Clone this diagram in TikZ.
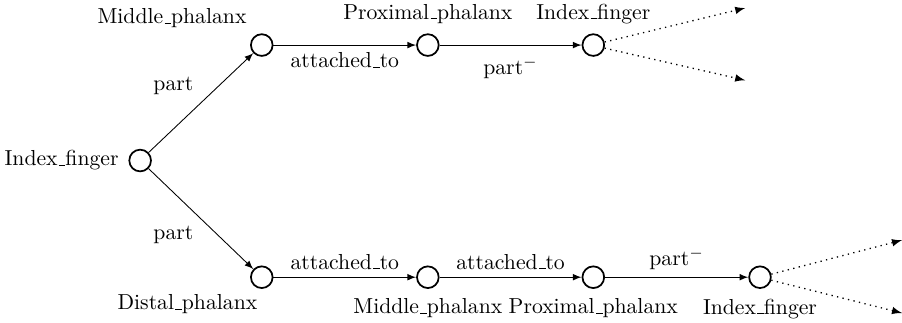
\documentclass[tikz,border=0pt]{standalone}
\usepackage{tikz}
\usetikzlibrary{positioning}

% old-style underscore rule
\newcommand{\us}{\leavevmode\kern.06em\vbox{\hrule width.3em}}

\begin{document}
\begin{tikzpicture}[
    >=latex,
    label distance=1pt,
    ent/.style={
    draw,
    thick,
    circle,
    inner sep=0pt,
    minimum size=10pt},
    rel/.style={->},
    more/.style={->, dotted, semithick}]

    \useasboundingbox (0,0) rectangle (14.61,5.22);

    \node[ent, label=left:Index\us finger] (root) at (2.27,2.62) {};

    % upper branch
    \node[ent, label={[xshift=1pt]above left:Middle\us phalanx}] (mu) at (4.24,4.49) {};
    \node[ent, label=above:Proximal\us phalanx] (pu) at (6.93,4.49) {};
    \node[ent, label=above:Index\us finger] (iu) at (9.61,4.49) {};
    \coordinate (eu1) at (12.07,5.09);
    \coordinate (eu2) at (12.07,3.92);

    % lower branch
    \node[ent, label={[xshift=6pt]below left:Distal\us phalanx}] (dl) at (4.24,0.73) {};
    \node[ent, label=below:Middle\us phalanx] (ml) at (6.93,0.73) {};
    \node[ent, label=below:Proximal\us phalanx] (pl) at (9.61,0.73) {};
    \node[ent, label=below:Index\us finger] (il) at (12.31,0.73) {};
    \coordinate (el1) at (14.61,1.33);
    \coordinate (el2) at (14.61,0.15);

    \draw[rel] (root) -- node[above left] {part} (mu);
    \draw[rel] (mu) -- node[below] {attached\us to} (pu);
    \draw[rel] (pu) -- node[below, yshift=-2pt] {part$^-$} (iu);
    \draw[more] (iu.15) -- (eu1);
    \draw[more] (iu.-15) -- (eu2);

    \draw[rel] (root) -- node[below left] {part} (dl);
    \draw[rel] (dl) -- node[above] {attached\us to} (ml);
    \draw[rel] (ml) -- node[above] {attached\us to} (pl);
    \draw[rel] (pl) -- node[above] {part$^-$} (il);
    \draw[more] (il.15) -- (el1);
    \draw[more] (il.-15) -- (el2);
\end{tikzpicture}
\end{document}
